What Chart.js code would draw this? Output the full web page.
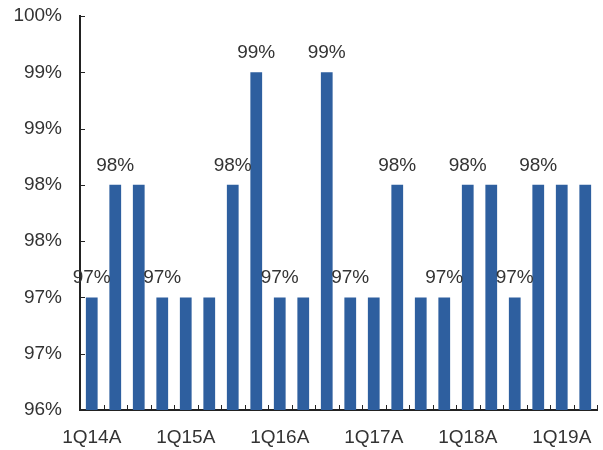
<!DOCTYPE html>
<html>
<head>
<meta charset="utf-8">
<script src="https://cdn.jsdelivr.net/npm/chart.js@4/dist/chart.umd.min.js"></script>
<style>
  html, body { margin: 0; padding: 0; background: #fff; }
  #wrap { width: 603px; height: 450px; position: relative; }
</style>
</head>
<body>
<div id="wrap"><canvas id="chart"></canvas></div>
<script>
"use strict";

const quarters = [
  '1Q14A', '2Q14A', '3Q14A', '4Q14A',
  '1Q15A', '2Q15A', '3Q15A', '4Q15A',
  '1Q16A', '2Q16A', '3Q16A', '4Q16A',
  '1Q17A', '2Q17A', '3Q17A', '4Q17A',
  '1Q18A', '2Q18A', '3Q18A', '4Q18A',
  '1Q19A', '2Q19A'
];
const rates = [
  97.0, 98.0, 98.0, 97.0,
  97.0, 97.0, 98.0, 99.0,
  97.0, 97.0, 99.0, 97.0,
  97.0, 98.0, 97.0, 97.0,
  98.0, 98.0, 97.0, 98.0,
  98.0, 98.0
];
// bars that carry a value label in the original
const labelled = [0, 1, 3, 6, 7, 8, 10, 11, 13, 15, 16, 18, 19];
const yMin = 96.0;
const yMax = 99.5;
const yStep = 0.5;

const FONT = '"Liberation Sans", Arial, sans-serif';
const INK = '#222';
const TEXT = '#333';

const innerTicks = {
  id: 'innerTicks',
  afterDraw(chart) {
    const ctx = chart.ctx;
    const x = chart.scales.x, y = chart.scales.y;
    ctx.save();
    ctx.strokeStyle = INK;
    ctx.lineWidth = 1;
    ctx.beginPath();
    for (let v = yMin; v <= yMax + 1e-9; v += yStep) {
      const py = Math.round(y.getPixelForValue(v)) + 0.5;
      ctx.moveTo(x.left, py);
      ctx.lineTo(x.left + 5, py);
    }
    for (let i = 1; i <= quarters.length; i++) {
      const px = Math.round((x.getPixelForValue(i - 1) + x.getPixelForValue(i)) / 2) + 0.5;
      ctx.moveTo(px, y.bottom);
      ctx.lineTo(px, y.bottom - 5);
    }
    ctx.stroke();

    // value labels
    const meta = chart.getDatasetMeta(0);
    ctx.fillStyle = TEXT;
    ctx.font = '19px ' + FONT;
    ctx.textAlign = 'center';
    ctx.textBaseline = 'bottom';
    labelled.forEach(i => {
      const bar = meta.data[i];
      ctx.fillText(Math.round(rates[i]) + '%', bar.x, bar.y - 10);
    });
    ctx.restore();
  }
};

new Chart(document.getElementById('chart'), {
  type: 'bar',
  data: {
    labels: quarters,
    datasets: [{
      data: rates,
      backgroundColor: '#2E5F9F',
      barPercentage: 0.5,
      categoryPercentage: 1.0,
      base: yMin
    }]
  },
  options: {
    responsive: true,
    maintainAspectRatio: false,
    animation: false,
    layout: { padding: { top: 16, right: 6, left: 0, bottom: 0 } },
    plugins: {
      legend: { display: false },
      tooltip: { enabled: false }
    },
    scales: {
      x: {
        grid: { display: false },
        border: { display: true, color: INK, width: 2 },
        ticks: {
          color: TEXT,
          font: { family: FONT, size: 19 },
          maxRotation: 0,
          autoSkip: false,
          padding: 8,
          callback: (v, i) => (i % 4 === 0 ? quarters[i] : '')
        },
        afterFit: s => { s.height = 40; }
      },
      y: {
        min: yMin,
        max: yMax,
        grid: { display: false },
        border: { display: true, color: INK, width: 2 },
        ticks: {
          stepSize: yStep,
          color: TEXT,
          font: { family: FONT, size: 19 },
          padding: 10,
          callback: v => Math.round(v) + '%'
        },
        afterFit: s => { s.width = 80; s.paddingTop = 0; s.paddingBottom = 0; }
      }
    }
  },
  plugins: [innerTicks]
});
</script>
</body>
</html>
